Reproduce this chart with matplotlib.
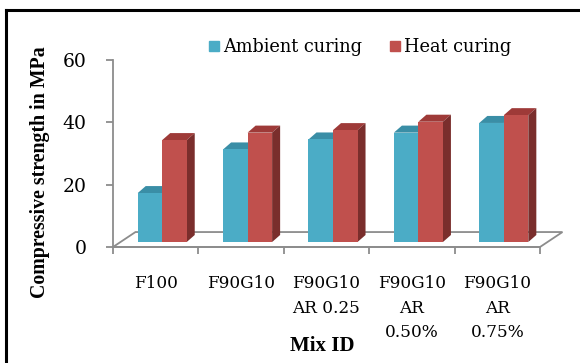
import numpy as np
import matplotlib
matplotlib.use('Agg')
import matplotlib.pyplot as plt
from matplotlib.patches import Polygon
from matplotlib.lines import Line2D

# datos
mezclas = ['F100', 'F90G10', 'F90G10\nAR 0.25', 'F90G10\nAR\n0.50%', 'F90G10\nAR\n0.75%']
ambiente = [15.7, 29.7, 32.9, 35.1, 38.2]
calor = [32.7, 35.1, 35.9, 38.6, 40.7]
series = ['Ambient curing', 'Heat curing']

# colores tipo excel
c_amb = '#4BACC6'
c_amb_top = '#3A8EA6'
c_cal = '#C0504D'
c_cal_top = '#9E3A38'
c_cal_lado = '#7A2E2C'
gris = '#8C8C8C'

fig = plt.figure(figsize=(5.8, 3.63), dpi=100)
ax = fig.add_axes([113/580, 1 - 247/363, 427/580, 187/363])

n = len(mezclas)
x = np.arange(n)
ancho = 0.287
corr = 0.076      # desplazamiento por profundidad
base = 1.6
dx, dy = 0.094, 2.25     # profundidad de cada barra
fdx, fdy = 0.263, 4.8    # profundidad del piso

# piso
piso = Polygon([(-0.5, 0), (n - 0.5, 0), (n - 0.5 + fdx, fdy), (-0.5 + fdx, fdy)],
               closed=True, facecolor='white', edgecolor=gris, lw=1.3, clip_on=False, zorder=1)
ax.add_patch(piso)

xa = x + corr - ancho / 2
xc = x + corr + ancho / 2
ax.bar(xa, ambiente, ancho, bottom=base, color=c_amb, zorder=3, edgecolor='none')
ax.bar(xc, calor, ancho, bottom=base, color=c_cal, zorder=3, edgecolor='none')

for i in range(n):
    # tapa ambiente
    x0 = xa[i] - ancho / 2
    y0 = base + ambiente[i]
    ax.add_patch(Polygon([(x0, y0), (x0 + ancho, y0), (x0 + ancho + dx, y0 + dy), (x0 + dx, y0 + dy)],
                         facecolor=c_amb_top, edgecolor='none', zorder=2, clip_on=False))
    # tapa y lado calor
    x1 = xc[i] - ancho / 2
    y1 = base + calor[i]
    ax.add_patch(Polygon([(x1, y1), (x1 + ancho, y1), (x1 + ancho + dx, y1 + dy), (x1 + dx, y1 + dy)],
                         facecolor=c_cal_top, edgecolor='none', zorder=2, clip_on=False))
    ax.add_patch(Polygon([(x1 + ancho, base), (x1 + ancho, y1), (x1 + ancho + dx, y1 + dy), (x1 + ancho + dx, base + dy)],
                         facecolor=c_cal_lado, edgecolor='none', zorder=2, clip_on=False))

ax.set_xlim(-0.5, n - 0.5)
ax.set_ylim(0, 60)
ax.set_yticks([0, 20, 40, 60])
ax.set_xticks(np.arange(n + 1) - 0.5)
ax.set_xticklabels([])
ax.set_xticks(x, minor=True)
ax.set_xticklabels(mezclas, minor=True, fontfamily='DejaVu Serif', fontsize=12.2, linespacing=1.6)
ax.tick_params(axis='x', which='minor', length=0, pad=20)
ax.tick_params(axis='x', which='major', length=5, color=gris, width=1.3)
ax.tick_params(axis='y', length=5, color=gris, width=1.3, pad=14)
for t in ax.get_yticklabels():
    t.set_fontfamily('DejaVu Serif')
    t.set_fontsize(13.5)

for s in ['top', 'right']:
    ax.spines[s].set_visible(False)
for s in ['left', 'bottom']:
    ax.spines[s].set_color(gris)
    ax.spines[s].set_linewidth(1.3)
ax.patch.set_alpha(0)

fig.text(40/580, 1 - 172/363, 'Compressive strength in MPa', rotation=90, ha='center', va='center',
         fontfamily='Liberation Serif', fontweight='bold', fontsize=14.3)
fig.text(322/580, 1 - 346/363, 'Mix ID', ha='center', va='center',
         fontfamily='Liberation Serif', fontweight='bold', fontsize=15)

manejadores = [Line2D([], [], marker='s', ls='none', color=c_amb, markersize=7),
               Line2D([], [], marker='s', ls='none', color=c_cal, markersize=7)]
fig.legend(manejadores, series, loc='center', bbox_to_anchor=(360/580, 1 - 47/363), ncol=2, frameon=False,
           prop={'family': 'DejaVu Serif', 'size': 12.8}, handlelength=0.6, handletextpad=0.25,
           columnspacing=1.5)

# marco
fig.add_artist(Line2D([6/580, 1], [1 - 10/363, 1 - 10/363], color='black', lw=2.2))
fig.add_artist(Line2D([6/580, 6/580], [0, 1 - 10/363], color='black', lw=2.2))

fig.savefig('out.png', dpi=100)
